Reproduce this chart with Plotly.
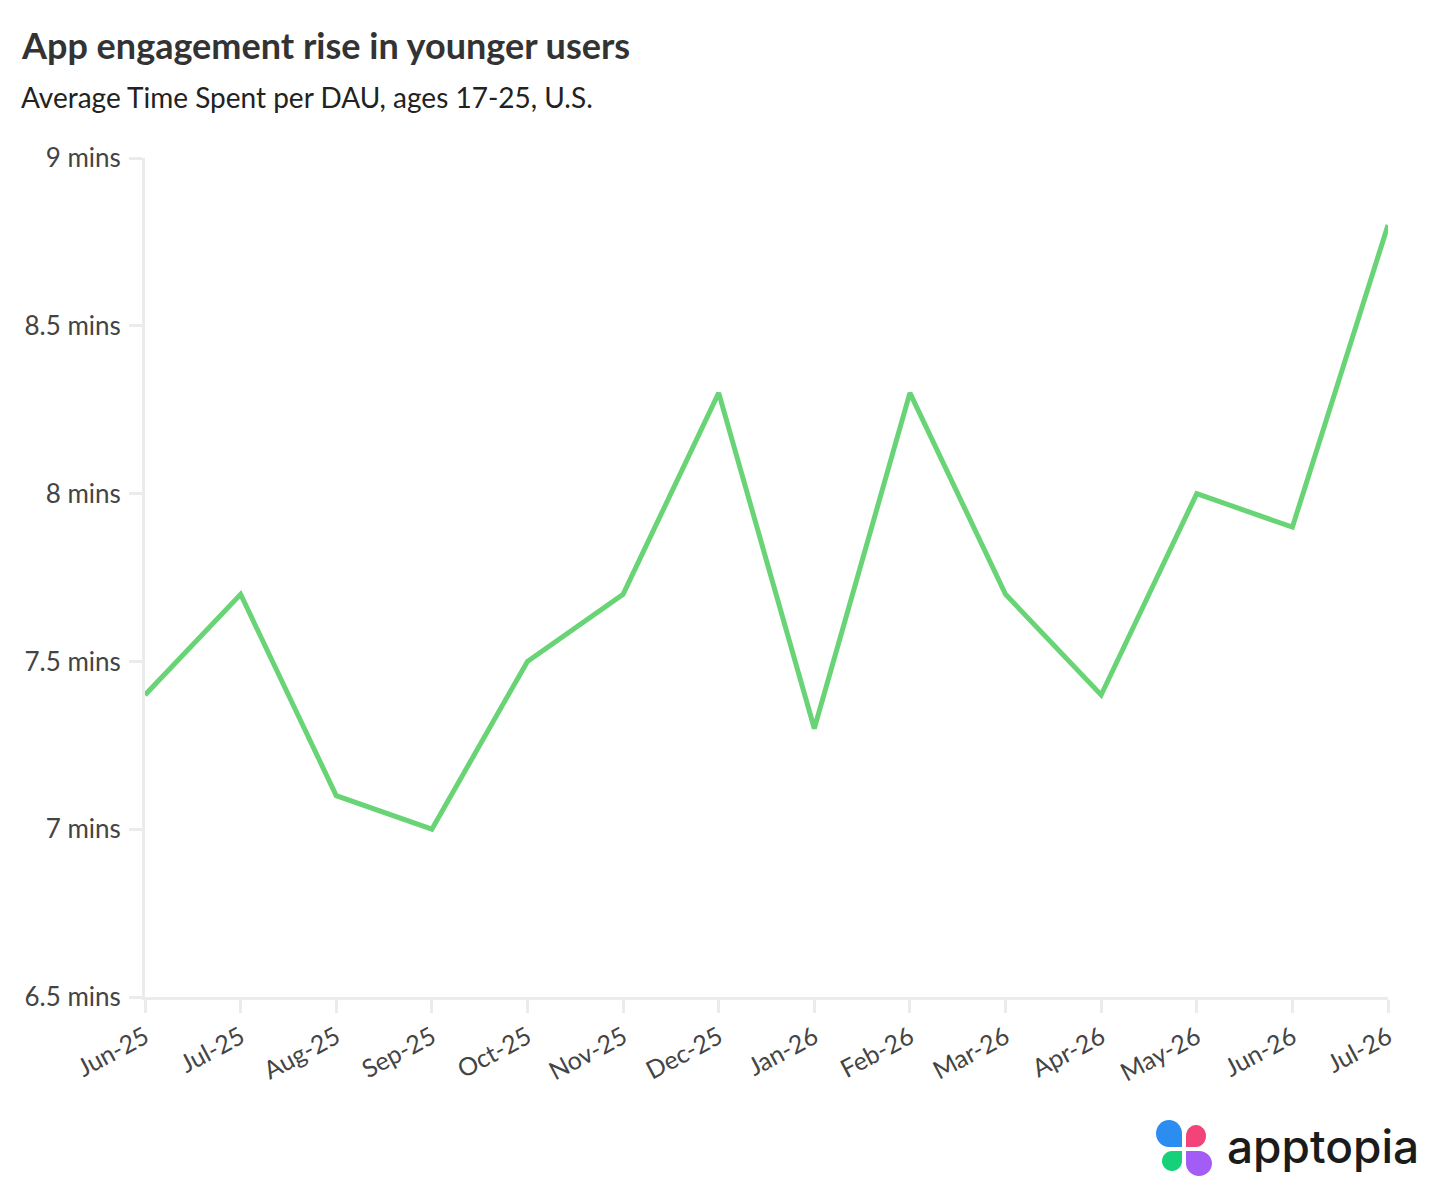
import plotly.graph_objects as go

months = ["Jun-25", "Jul-25", "Aug-25", "Sep-25", "Oct-25", "Nov-25", "Dec-25",
          "Jan-26", "Feb-26", "Mar-26", "Apr-26", "May-26", "Jun-26", "Jul-26"]
minutes = [7.4, 7.7, 7.1, 7.0, 7.5, 7.7, 8.3, 7.3, 8.3, 7.7, 7.4, 8.0, 7.9, 8.8]
y_ticks = [6.5, 7, 7.5, 8, 8.5, 9]
y_tick_labels = ["6.5 mins", "7 mins", "7.5 mins", "8 mins", "8.5 mins", "9 mins"]

title = "App engagement rise in younger users"
subtitle = "Average Time Spent per DAU, ages 17-25, U.S."

FIG_W, FIG_H = 1436, 1202
L, R, T, B = 145, 1388, 158, 997
PW, PH = R - L, B - T


def px(x):
    return (x - L) / PW


def py(y):
    return (B - y) / PH


def blob(x0, y0, x1, y1, sharp):
    # pixel coords, y down; rounded rectangle with one sharp corner
    k = 0.5523
    rx = (x1 - x0) / 2
    ry = (y1 - y0) / 2
    corners = {"tl": (x0, y0), "tr": (x1, y0), "br": (x1, y1), "bl": (x0, y1)}
    segs = []
    for c in ["tl", "tr", "br", "bl"]:
        cx, cy = corners[c]
        if c == sharp:
            segs.append(("P", cx, cy))
        else:
            if c == "tl":
                a = (x0, y0 + ry); b = (x0 + rx, y0)
                c1 = (x0, y0 + ry - k * ry); c2 = (x0 + rx - k * rx, y0)
            elif c == "tr":
                a = (x1 - rx, y0); b = (x1, y0 + ry)
                c1 = (x1 - rx + k * rx, y0); c2 = (x1, y0 + ry - k * ry)
            elif c == "br":
                a = (x1, y1 - ry); b = (x1 - rx, y1)
                c1 = (x1, y1 - ry + k * ry); c2 = (x1 - rx + k * rx, y1)
            else:
                a = (x0 + rx, y1); b = (x0, y1 - ry)
                c1 = (x0 + rx - k * rx, y1); c2 = (x0, y1 - ry + k * ry)
            segs.append(("C", a, c1, c2, b))
    path = ""
    first = True
    for s in segs:
        if s[0] == "P":
            path += ("M" if first else "L") + f"{px(s[1]):.5f},{py(s[2]):.5f} "
        else:
            a, c1, c2, b = s[1:]
            path += ("M" if first else "L") + f"{px(a[0]):.5f},{py(a[1]):.5f} "
            path += (f"C{px(c1[0]):.5f},{py(c1[1]):.5f} {px(c2[0]):.5f},{py(c2[1]):.5f} "
                     f"{px(b[0]):.5f},{py(b[1]):.5f} ")
        first = False
    return path + "Z"


fig = go.Figure()
fig.add_trace(go.Scatter(
    x=months, y=minutes, mode="lines",
    line=dict(color="#68d475", width=5),
    hoverinfo="skip", cliponaxis=False,
))

shapes = [
    dict(type="path", xref="paper", yref="paper", path=blob(1156, 1120, 1182, 1147, "br"),
         fillcolor="#2c8df0", line=dict(width=0)),
    dict(type="path", xref="paper", yref="paper", path=blob(1186, 1125, 1206, 1147, "bl"),
         fillcolor="#f24478", line=dict(width=0)),
    dict(type="path", xref="paper", yref="paper", path=blob(1162, 1151, 1182, 1171, "tr"),
         fillcolor="#17d17a", line=dict(width=0)),
    dict(type="path", xref="paper", yref="paper", path=blob(1186, 1151, 1212, 1176, "tl"),
         fillcolor="#a45cf6", line=dict(width=0)),
]

annotations = [
    dict(text=f"<b>{title}</b>", xref="paper", yref="paper", x=px(19), y=py(45),
         xanchor="left", yanchor="middle", showarrow=False,
         font=dict(family="Lato", size=36, color="#333333")),
    dict(text=subtitle, xref="paper", yref="paper", x=px(19), y=py(97),
         xanchor="left", yanchor="middle", showarrow=False,
         font=dict(family="Lato", size=28, color="#222222")),
    dict(text="apptopia", xref="paper", yref="paper", x=px(1225), y=py(1146),
         xanchor="left", yanchor="middle", showarrow=False,
         font=dict(family="Inter", size=46, color="#1b1b1b", weight=500)),
]

fig.update_layout(
    width=FIG_W, height=FIG_H,
    margin=dict(l=L, r=FIG_W - R, t=T, b=FIG_H - B),
    paper_bgcolor="white", plot_bgcolor="white",
    showlegend=False,
    shapes=shapes, annotations=annotations,
    font=dict(family="Lato", color="#444444"),
    xaxis=dict(
        type="category", range=[0, len(months) - 1],
        showgrid=False, zeroline=False,
        showline=True, linecolor="#ebebeb", linewidth=3,
        ticks="outside", ticklen=13, tickwidth=3, tickcolor="#ebebeb",
        tickangle=-28, tickfont=dict(family="Lato", size=25, color="#444444"),
    ),
    yaxis=dict(
        range=[6.5, 9], tickvals=y_ticks, ticktext=y_tick_labels,
        showgrid=False, zeroline=False,
        showline=True, linecolor="#ebebeb", linewidth=3,
        ticks="outside", ticklen=13, tickwidth=3, tickcolor="#ebebeb",
        ticklabelstandoff=3,
        tickfont=dict(family="Lato", size=26, color="#444444"),
    ),
)

fig.write_html("out.html")
